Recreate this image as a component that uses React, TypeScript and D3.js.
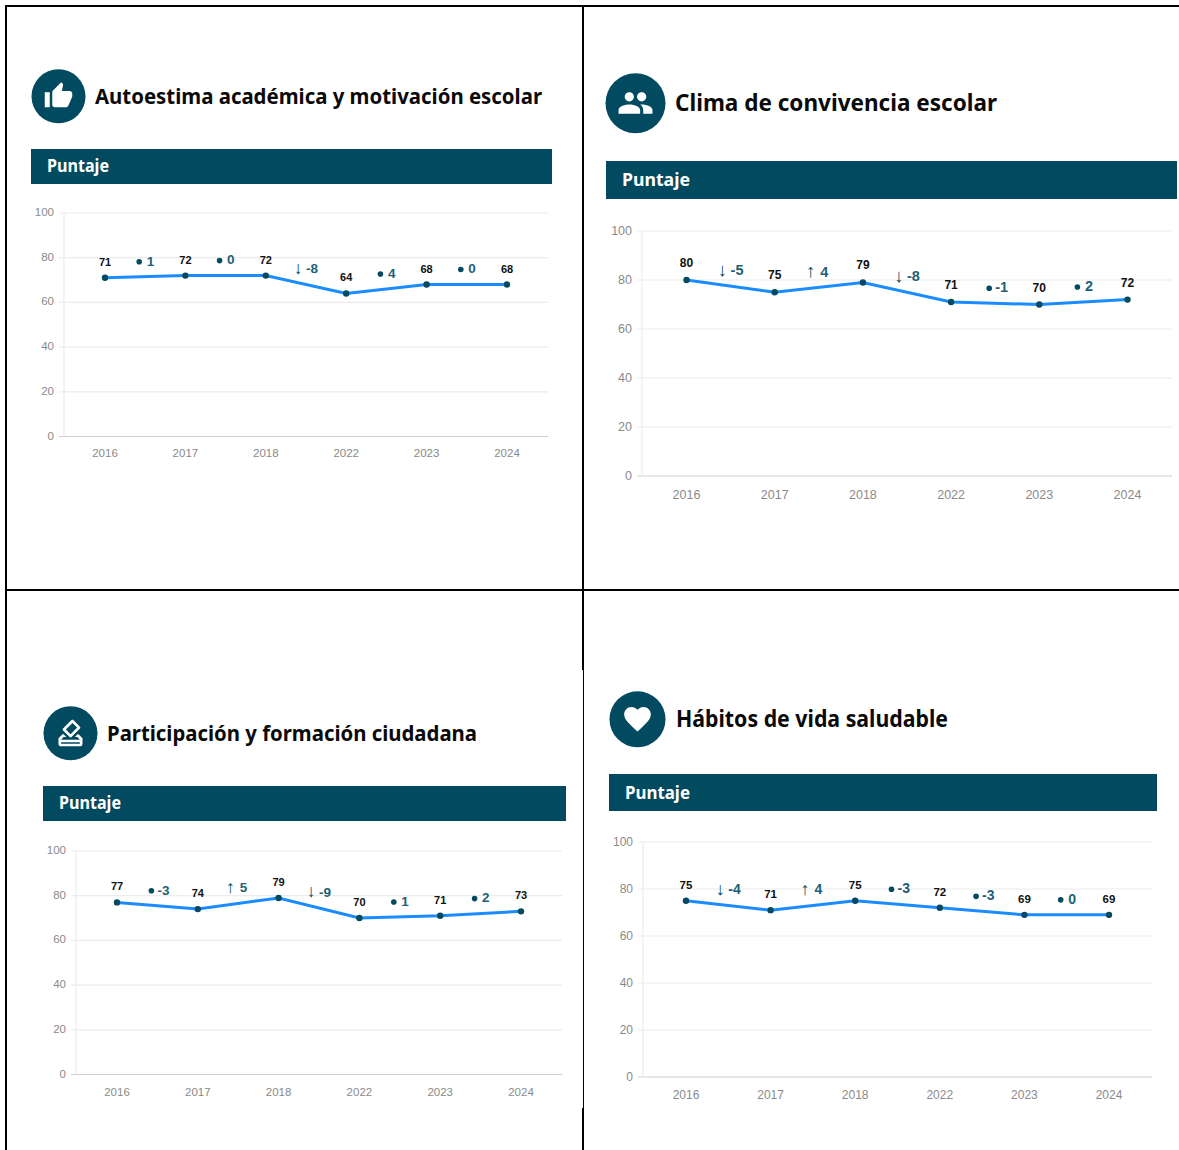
import React from "react";
import * as d3 from "d3";

const years = ["2016", "2017", "2018", "2022", "2023", "2024"];
const yTicks = [0, 20, 40, 60, 80, 100];
const autoestima = [71, 72, 72, 64, 68, 68];
const clima = [80, 75, 79, 71, 70, 72];
const participacion = [77, 74, 79, 70, 71, 73];
const habitos = [75, 71, 75, 72, 69, 69];
const autoestimaTrend = ["flat", "flat", "down", "flat", "flat"];
const climaTrend = ["down", "up", "down", "flat", "flat"];
const participacionTrend = ["flat", "up", "down", "flat", "flat"];
const habitosTrend = ["down", "up", "flat", "flat", "flat"];

const ICONS = {
  thumb: "M1 21h4V9H1v12zm22-11c0-1.1-.9-2-2-2h-6.31l.95-4.57.03-.32c0-.41-.17-.79-.44-1.06L14.17 1 7.59 7.59C7.22 7.95 7 8.45 7 9v10c0 1.1.9 2 2 2h9c.83 0 1.54-.5 1.84-1.22l3.02-7.05c.09-.23.14-.47.14-.73v-2z",
  people: "M16 11c1.66 0 2.99-1.34 2.99-3S17.66 5 16 5c-1.66 0-3 1.34-3 3s1.34 3 3 3zm-8 0c1.66 0 2.99-1.34 2.99-3S9.66 5 8 5C6.34 5 5 6.34 5 8s1.34 3 3 3zm0 2c-2.33 0-7 1.17-7 3.5V19h14v-2.5c0-2.33-4.67-3.5-7-3.5zm8 0c-.29 0-.62.02-.97.05 1.16.84 1.97 1.97 1.97 3.45V19h6v-2.5c0-2.33-4.67-3.5-7-3.5z",
  vote: "M18 13h-.68l-2 2h1.91L19 17H5l1.78-2h2.05l-2-2H6l-3 3v4c0 1.1.89 2 1.99 2H19c1.1 0 2-.89 2-2v-4l-3-3zm1 7H5v-1h14v1zm-7.66-4.98c.39.39 1.02.39 1.41 0l6.36-6.36c.39-.39.39-1.02 0-1.41L14.16 2.3c-.38-.4-1.01-.4-1.4-.01L6.39 8.66c-.39.39-.39 1.02 0 1.41l4.95 4.95zm2.12-10.61L17 7.95l-4.95 4.95-3.54-3.54 4.95-4.95z",
  heart: "M12 21.35l-1.45-1.32C5.4 15.36 2 12.28 2 8.5 2 5.42 4.42 3 7.5 3c1.74 0 3.34.81 4.5 2.09C13.16 3.81 14.76 3 16.5 3 19.58 3 22 5.42 22 8.5c0 3.78-3.4 6.86-8.55 11.54L12 21.35z",
};

const TEAL = "#024a60";
const LINE = "#1a8cff";
const SANS = "'Liberation Sans', Arial, sans-serif";
const TITLE = "'Noto Sans', sans-serif";

type PanelProps = {
  title: string; values: number[]; trend: string[]; icon: string;
  cx: number; cy: number; r: number; iconSize: number; titleX: number; titleSize: number; titleLen: number;
  bandX0: number; bandX1: number; bandY0: number; bandY1: number; bandSize: number; bandLen: number;
  left: number; right: number; first: number; last: number; y100: number; y0: number;
  tickSize: number; tickShift: number; xLabelDy: number; valueSize: number; valueDy: number; deltaSize: number;
};

function Panel(p: PanelProps) {
  const x = d3.scalePoint<string>().domain(years).range([p.first, p.last]);
  const y = d3.scaleLinear().domain([0, 100]).range([p.y0, p.y100]);
  const line = d3.line<number>().x((_, i) => x(years[i])!).y((d) => y(d));
  const deltas = p.values.slice(1).map((v, i) => ({
    d: v - p.values[i],
    trend: p.trend[i],
    px: (x(years[i])! + x(years[i + 1])!) / 2,
    py: y((v + p.values[i]) / 2) - 16,
  }));
  return (
    <g>
      <circle cx={p.cx + 0.5} cy={p.cy + 0.3} r={p.r} fill={TEAL} />
      <path
        d={ICONS[p.icon as keyof typeof ICONS]}
        fill="#fff"
        transform={`translate(${p.cx + 0.5 - p.iconSize / 2},${p.cy - p.iconSize / 2}) scale(${p.iconSize / 24})`}
      />
      <text x={p.titleX} y={p.cy + p.titleSize * 0.36} fontFamily={TITLE} fontWeight={700} fontSize={p.titleSize} fill="#0a0a0a"
        textLength={p.titleLen} lengthAdjust="spacingAndGlyphs">
        {p.title}
      </text>
      <rect x={p.bandX0} y={p.bandY0} width={p.bandX1 - p.bandX0} height={p.bandY1 - p.bandY0} fill={TEAL} />
      <text x={p.bandX0 + 16} y={(p.bandY0 + p.bandY1) / 2 + p.bandSize * 0.35} fontFamily={TITLE} fontWeight={700} fontSize={p.bandSize} fill="#fff"
        textLength={p.bandLen} lengthAdjust="spacingAndGlyphs">
        Puntaje
      </text>
      {yTicks.map((t) => (
        <g key={t}>
          <line x1={p.left - 5} x2={p.right} y1={y(t)} y2={y(t)} stroke={t === 0 ? "#cfcfcf" : "#ececec"} strokeWidth={1.2} />
          <text x={p.left - 10} y={y(t) + p.tickSize * 0.35 - p.tickShift} textAnchor="end" fontFamily={SANS} fontSize={p.tickSize} fill="#8a8a8a">{t}</text>
        </g>
      ))}
      <line x1={p.left} x2={p.left} y1={p.y100} y2={p.y0} stroke="#ececec" strokeWidth={1.2} />
      {years.map((yr) => (
        <text key={yr} x={x(yr)} y={p.y0 + p.xLabelDy} textAnchor="middle" fontFamily={SANS} fontSize={p.tickSize} fill="#8a8a8a">{yr}</text>
      ))}
      <path d={line(p.values)!} fill="none" stroke={LINE} strokeWidth={3} />
      {p.values.map((v, i) => (
        <g key={i}>
          <circle cx={x(years[i])} cy={y(v)} r={3.2} fill={TEAL} />
          <text x={x(years[i])} y={y(v) - p.valueDy} textAnchor="middle" fontFamily={SANS} fontWeight={700} fontSize={p.valueSize} fill="#111">{v}</text>
        </g>
      ))}
      {deltas.map((e, i) => {
        const fs = p.deltaSize;
        const by = e.py + fs * 0.36;
        return (
          <g key={i}>
            {e.trend !== "flat" ? (
              <text x={e.px - 3.5} y={by + 0.5} textAnchor="end" fontFamily={SANS} fontSize={fs + 4} fill={TEAL}>{e.trend === "up" ? "↑" : "↓"}</text>
            ) : (
              <circle cx={e.px - 6} cy={e.py + 1} r={2.8} fill={TEAL} />
            )}
            <text x={e.px + (e.d < 0 ? 0 : 1.5)} y={by} fontFamily={SANS} fontWeight={700} fontSize={fs} fill="#1f5f76">{e.d}</text>
          </g>
        );
      })}
    </g>
  );
}

export default function App() {
  return (
    <svg width={1179} height={1150} style={{ position: "absolute", left: 0, top: 0, display: "block", background: "#fff" }}>
      <Panel title="Autoestima académica y motivación escolar" values={autoestima} trend={autoestimaTrend} icon="thumb"
        cx={58} cy={96} r={27} iconSize={30} titleX={95} titleSize={22} titleLen={447}
        bandX0={31} bandX1={552} bandY0={149} bandY1={184} bandSize={17} bandLen={62}
        left={64} right={548} first={105} last={507} y100={213} y0={436.5}
        tickSize={11.5} tickShift={1} xLabelDy={20} valueSize={11} valueDy={12} deltaSize={13.5} />
      <Panel title="Clima de convivencia escolar" values={clima} trend={climaTrend} icon="people"
        cx={635} cy={103} r={30} iconSize={37} titleX={675} titleSize={23.5} titleLen={322}
        bandX0={606} bandX1={1177} bandY0={161} bandY1={199} bandSize={18.5} bandLen={68}
        left={642} right={1172} first={686.5} last={1127.5} y100={231} y0={476}
        tickSize={12.5} tickShift={0} xLabelDy={23} valueSize={12} valueDy={13} deltaSize={14.5} />
      <Panel title="Participación y formación ciudadana" values={participacion} trend={participacionTrend} icon="vote"
        cx={70} cy={733} r={27} iconSize={32} titleX={107} titleSize={22} titleLen={370}
        bandX0={43} bandX1={566} bandY0={786} bandY1={821} bandSize={17} bandLen={62}
        left={76} right={562} first={117} last={521} y100={851} y0={1074.5}
        tickSize={11.5} tickShift={1} xLabelDy={21} valueSize={11} valueDy={12} deltaSize={13.5} />
      <Panel title="Hábitos de vida saludable" values={habitos} trend={habitosTrend} icon="heart"
        cx={637} cy={719} r={28} iconSize={32} titleX={676} titleSize={22.5} titleLen={272}
        bandX0={609} bandX1={1157} bandY0={774} bandY1={811} bandSize={18} bandLen={65}
        left={643} right={1152} first={686} last={1109} y100={842} y0={1077}
        tickSize={12} tickShift={0} xLabelDy={22} valueSize={11.5} valueDy={12} deltaSize={14} />
      <g stroke="#000">
        <line x1={6} x2={6} y1={6} y2={1150} strokeWidth={2} />
        <line x1={5} x2={1179} y1={6} y2={6} strokeWidth={2} />
        <line x1={5} x2={1179} y1={590} y2={590} strokeWidth={2} />
        <line x1={583} x2={583} y1={6} y2={670} strokeWidth={2} />
        <line x1={583.5} x2={583.5} y1={670} y2={1108} strokeWidth={1} />
        <line x1={583} x2={583} y1={1108} y2={1150} strokeWidth={2} />
      </g>
    </svg>
  );
}
